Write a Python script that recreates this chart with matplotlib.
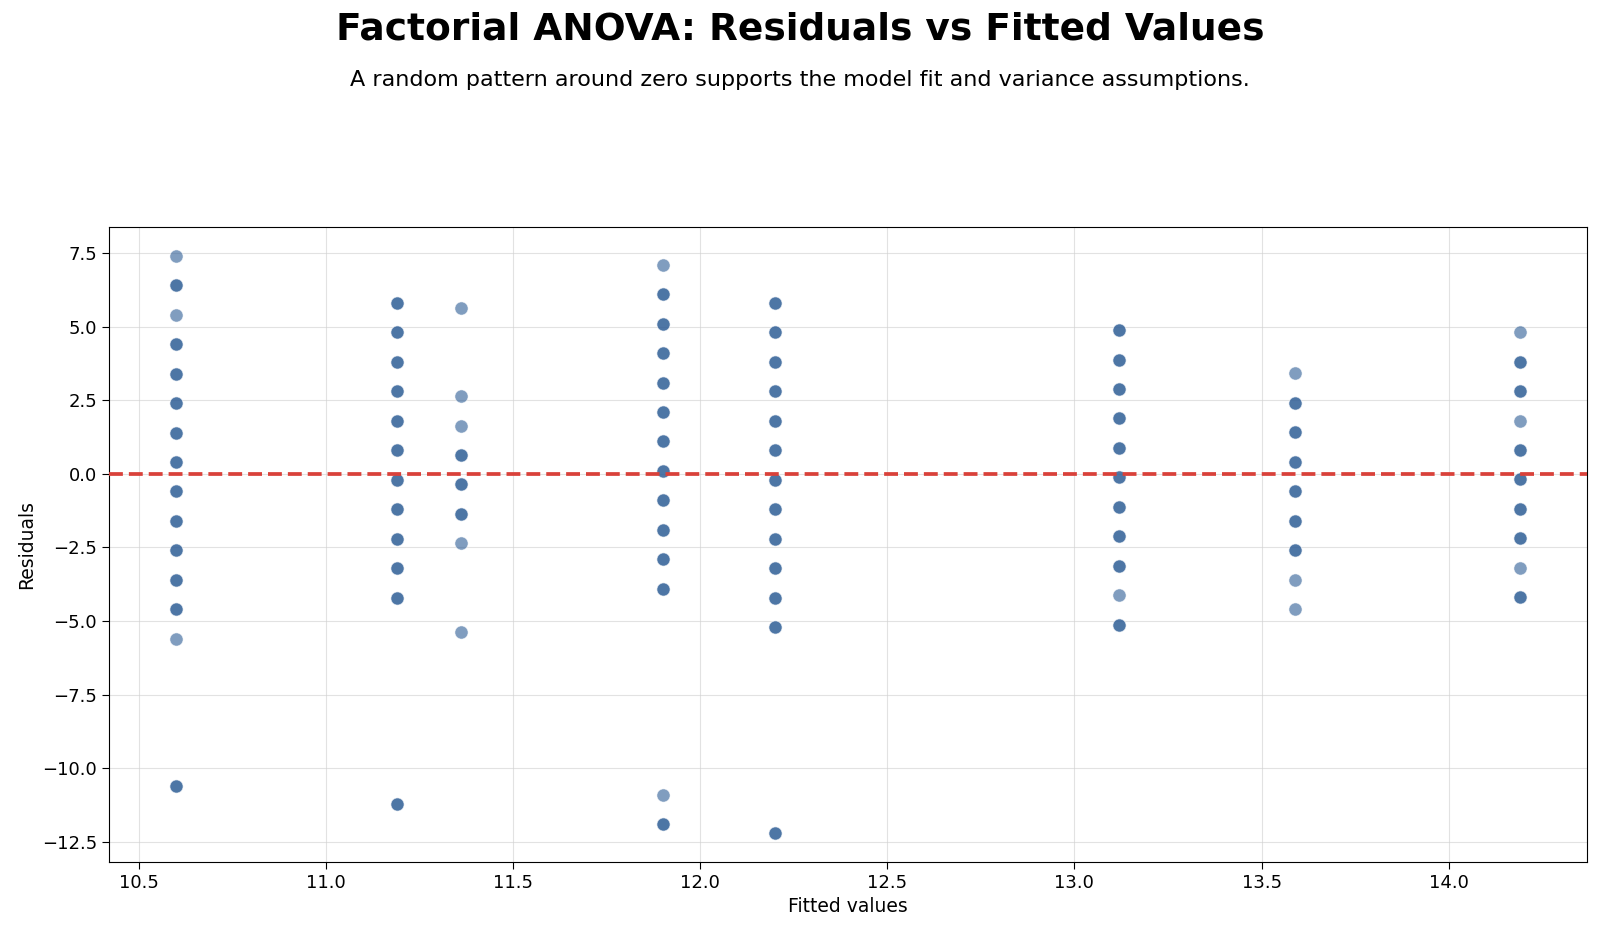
import matplotlib
matplotlib.use("Agg")
import matplotlib.pyplot as plt
import numpy as np

# fitted value of each group, residual levels and number of observations at each level
fitted_groups = [10.6, 11.19, 11.36, 11.9, 12.2, 13.12, 13.59, 14.19]
residual_levels = [
    [7.4, 6.4, 5.4, 4.4, 3.4, 2.4, 1.4, 0.4, -0.6, -1.6, -2.6, -3.6, -4.6, -5.6, -10.6],
    [5.8, 4.8, 3.8, 2.8, 1.8, 0.8, -0.2, -1.2, -2.2, -3.2, -4.2, -11.2],
    [5.64, 2.64, 1.64, 0.64, -0.36, -1.36, -2.36, -5.36],
    [7.1, 6.1, 5.1, 4.1, 3.1, 2.1, 1.1, 0.1, -0.9, -1.9, -2.9, -3.9, -10.9, -11.9],
    [5.8, 4.8, 3.8, 2.8, 1.8, 0.8, -0.2, -1.2, -2.2, -3.2, -4.2, -5.2, -12.2],
    [4.88, 3.88, 2.88, 1.88, 0.88, -0.12, -1.12, -2.12, -3.12, -4.12, -5.12],
    [3.41, 2.41, 1.41, 0.41, -0.59, -1.59, -2.59, -3.59, -4.59],
    [4.81, 3.81, 2.81, 1.81, 0.81, -0.19, -1.19, -2.19, -3.19, -4.19],
]
level_counts = [
    [1, 2, 1, 2, 2, 2, 2, 2, 2, 2, 2, 2, 2, 1, 2],
    [2, 2, 2, 2, 2, 2, 2, 2, 2, 2, 2, 2],
    [1, 1, 1, 2, 2, 2, 1, 1],
    [1, 2, 2, 2, 2, 2, 2, 2, 2, 2, 2, 2, 1, 2],
    [2, 2, 2, 2, 2, 2, 2, 2, 2, 2, 2, 2, 2],
    [2, 2, 2, 2, 2, 2, 2, 2, 2, 1, 2],
    [1, 2, 2, 2, 2, 2, 2, 1, 1],
    [1, 2, 2, 1, 2, 2, 2, 2, 1, 2],
]

fitted = []
residuals = []
for fv, levels, counts in zip(fitted_groups, residual_levels, level_counts):
    for r, c in zip(levels, counts):
        fitted += [fv] * c
        residuals += [r] * c

fig = plt.figure(figsize=(16, 9.32), dpi=100)
ax = fig.add_axes([109 / 1600, 1 - 862 / 932, (1587 - 109) / 1600, (862 - 227) / 932])

ax.scatter(fitted, residuals, s=90, color="#2c5c95", alpha=0.6,
           edgecolors="white", linewidths=0.6, zorder=3)
ax.axhline(0, color="#d9413a", linestyle="--", linewidth=2.7, zorder=4)

ax.grid(True, color="#d0d0d0", alpha=0.6, linewidth=0.8)
ax.set_axisbelow(True)
ax.set_xlabel("Fitted values", fontsize=13.5)
ax.set_ylabel("Residuals", fontsize=13.5)
ax.tick_params(labelsize=13, length=5)

fig.text(0.5, 1 - 29 / 932, "Factorial ANOVA: Residuals vs Fitted Values",
         ha="center", va="center", fontsize=27, fontweight="bold")
fig.text(0.5, 1 - 80 / 932,
         "A random pattern around zero supports the model fit and variance assumptions.",
         ha="center", va="center", fontsize=16)

fig.savefig("out.png", dpi=100)
